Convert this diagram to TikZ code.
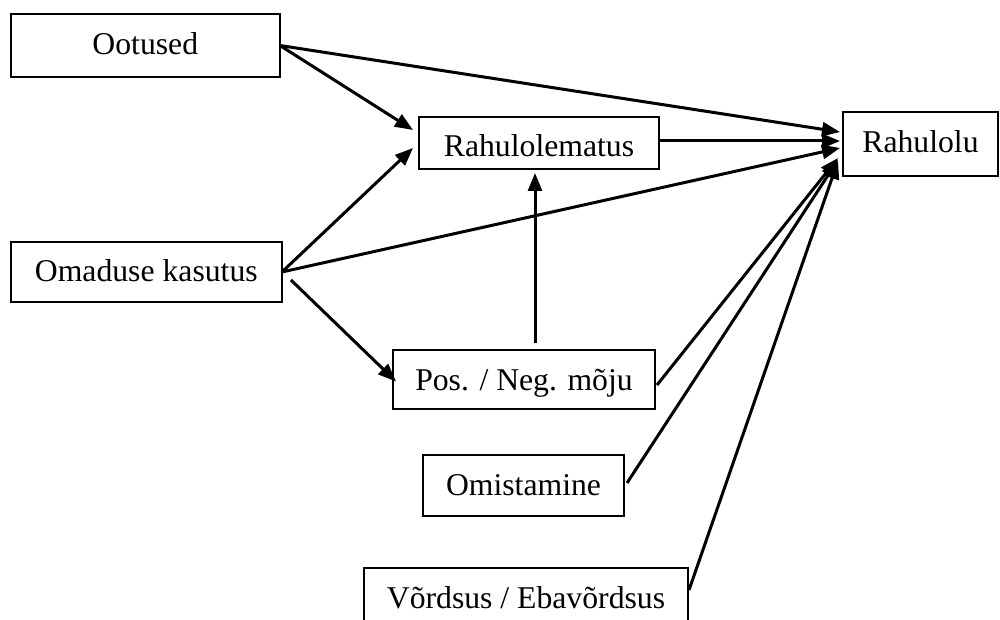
\documentclass[tikz,border=0pt]{standalone}
\usepackage{fontspec}
\setmainfont{Liberation Serif}
\usetikzlibrary{arrows.meta}
\begin{document}
\begin{tikzpicture}[x=0.5pt,y=-0.5pt,
  box/.style={draw=black, line width=1.1pt, rectangle, inner sep=0pt, outer sep=0pt, text depth=0pt,
    font=\fontsize{15.85pt}{19pt}\selectfont},
  conn/.style={line width=1.5pt, -{Triangle[length=9pt,width=7pt]}}]
\useasboundingbox (0,0) rectangle (1000,620);
\node[box, minimum width=134.65pt, minimum height=31.5pt, text height=8.8pt] (oot) at (145.3,45.5) {Ootused};
\node[box, minimum width=120pt, minimum height=26pt, text height=13.7pt] (rlem) at (539,143) {Rahulolematus};
\node[box, minimum width=77.5pt, minimum height=32pt, text height=8.7pt] (rah) at (920.5,144) {Rahulolu};
\node[box, minimum width=135.65pt, minimum height=30pt, text height=9.7pt] (oma) at (146.3,272) {Omaduse kasutus};
\node[box, minimum width=131pt, minimum height=29.5pt, text height=11.2pt] (pos) at (524,379.5) {Pos. / Neg. mõju};
\node[box, minimum width=100.5pt, minimum height=30.5pt, text height=9.5pt] (omi) at (523.5,485.5) {Omistamine};
\node[box, draw=none, minimum width=162pt, minimum height=26pt, text height=14pt] (vor) at (526,594) {Võrdsus / Ebavõrdsus};
\draw[line width=1.1pt] (vor.south west) -- (vor.north west) -- (vor.north east) -- (vor.south east);
% connectors
\draw[conn] (oot.east) -- ([xshift=-1.5pt,yshift=6pt]rah.west);
\draw[conn] (oot.east) -- ([xshift=-3pt,yshift=6.5pt]rlem.west);
\draw[conn] ([yshift=1pt]rlem.east) -- ([xshift=-1.5pt,yshift=1.5pt]rah.west);
\draw[conn] (oma.east) -- ([xshift=-3pt,yshift=-2.5pt]rlem.west);
\draw[conn] (oma.east) -- ([xshift=-1.5pt,yshift=-2pt]rah.west);
\draw[conn] ([xshift=4.5pt,yshift=-4pt]oma.east) -- ([xshift=1.5pt,yshift=-1pt]pos.west);
\draw[conn] ([xshift=5.5pt,yshift=3.5pt]pos.north) -- ([xshift=-2pt,yshift=-2pt]rlem.south);
\draw[conn] ([xshift=1pt,yshift=-2.75pt]pos.east) -- ([xshift=-2.5pt,yshift=-7pt]rah.west);
\draw[conn] ([xshift=1.5pt,yshift=1.25pt]omi.east) -- ([xshift=-2.5pt,yshift=-8pt]rah.west);
\draw[conn] ([xshift=0.5pt,yshift=2pt]vor.east) -- ([xshift=-2.5pt,yshift=-8.5pt]rah.west);
\end{tikzpicture}
\end{document}
